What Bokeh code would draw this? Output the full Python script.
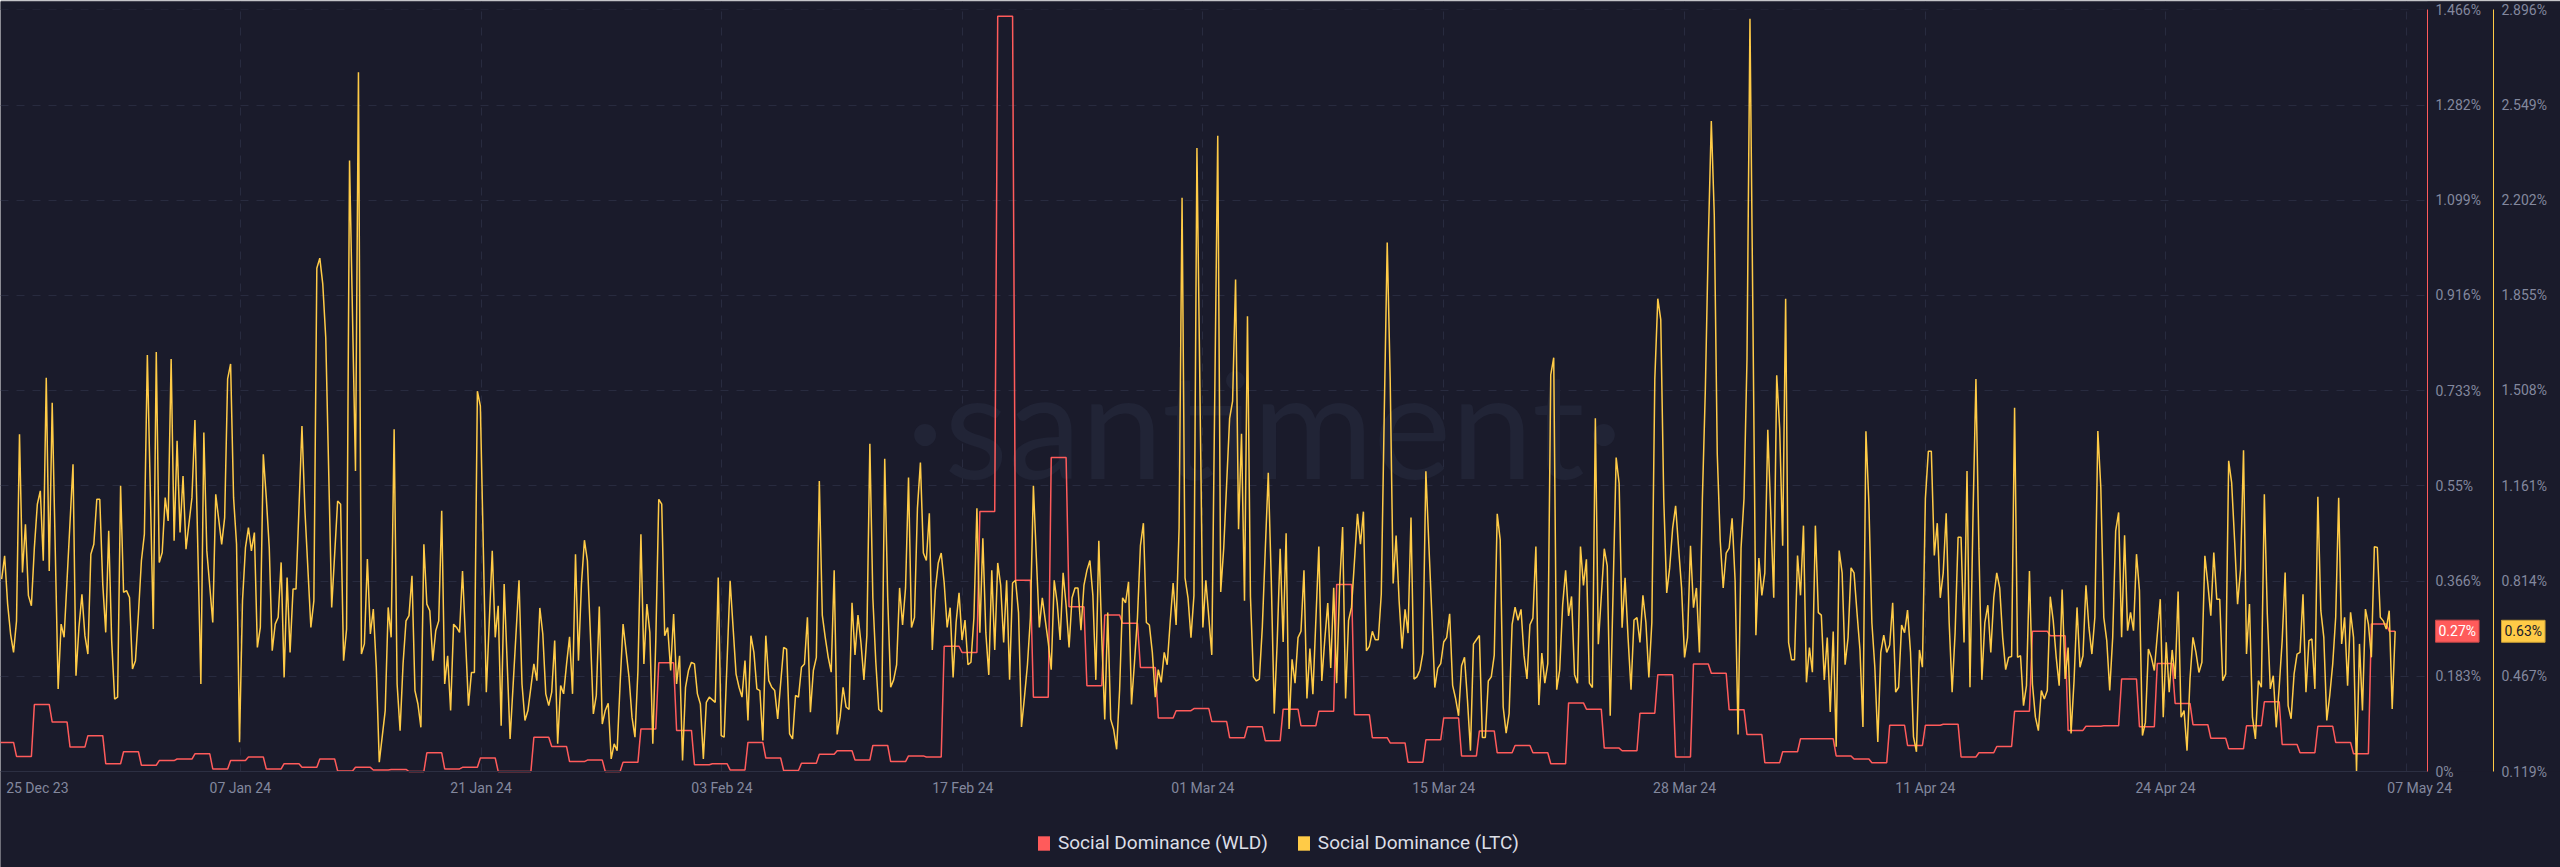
from bokeh.plotting import figure
from bokeh.models import (Range1d, LinearAxis, FixedTicker, PrintfTickFormatter,
                          Legend, LegendItem, Label, BoxAnnotation)
from bokeh.embed import file_html
from bokeh.resources import INLINE

# ---------------- data ----------------
# Social Dominance (WLD), one value per day starting 25 Dec 2023 (%)
wld_daily = [
    0.056, 0.029, 0.129, 0.095, 0.047, 0.069, 0.015, 0.038, 0.012, 0.021,
    0.024, 0.034, 0.005, 0.021, 0.028, 0.005, 0.015, 0.008, 0.024, 0.001,
    0.008, 0.003, 0.004, 0.0, 0.036, 0.005, 0.008, 0.026, 0.0, 0.0,
    0.066, 0.048, 0.019, 0.022, 0.0, 0.018, 0.082, 0.209, 0.079, 0.013,
    0.015, 0.003, 0.056, 0.026, 0.002, 0.016, 0.033, 0.04, 0.022, 0.05,
    0.019, 0.03, 0.028, 0.241, 0.229, 0.5, 1.453, 0.368, 0.143, 0.604,
    0.317, 0.165, 0.301, 0.285, 0.2, 0.103, 0.117, 0.121, 0.096, 0.065,
    0.086, 0.059, 0.12, 0.088, 0.116, 0.36, 0.109, 0.065, 0.055, 0.018,
    0.061, 0.103, 0.03, 0.078, 0.036, 0.05, 0.036, 0.015, 0.132, 0.12,
    0.045, 0.04, 0.112, 0.186, 0.028, 0.207, 0.189, 0.119, 0.071, 0.017,
    0.038, 0.063, 0.063, 0.03, 0.024, 0.017, 0.089, 0.05, 0.089, 0.091,
    0.028, 0.036, 0.048, 0.116, 0.27, 0.261, 0.079, 0.087, 0.088, 0.178,
    0.086, 0.208, 0.131, 0.09, 0.064, 0.044, 0.088, 0.134, 0.052, 0.036,
    0.087, 0.056, 0.034, 0.284, 0.27,
]

# Social Dominance (LTC): 4-hour step index since 25 Dec 2023 00:00, and value (%)
ltc_step = [
    *range(1, 19), *range(20, 23), *range(25, 51), *range(52, 64), 65, 66, 68, 69, 70, 72, 73,
    *range(75, 101), 102, 103, *range(105, 111), 112, *range(114, 119), *range(120, 129),
    *range(130, 157), *range(158, 163), 164,
    *range(166, 171), 172, *range(175, 179), *range(180, 211), *range(212, 240), *range(241, 245),
    *range(246, 263), *range(264, 352),
    *range(353, 404), 405, 406, 408, *range(410, 443), *range(444, 456), *range(457, 539),
    *range(540, 543), 544, *range(545, 726),
    *range(727, 807),
]
ltc_pct = [
    0.82, 0.905, 0.73, 0.62, 0.553, 0.668, 1.348, 0.844, 1.02, 0.76, 0.723, 0.935, 1.093, 1.142, 0.887, 1.554, 0.85, 1.463,
    0.42, 0.656, 0.608,
    1.239, 0.468, 0.644, 0.765, 0.614, 0.547, 0.911, 0.947, 1.111, 1.111, 0.802, 0.626, 0.996, 0.596, 0.383, 0.39, 1.16,
    0.772, 0.778, 0.753, 0.493, 0.523, 0.693, 0.887, 0.984, 1.637,
    0.638, 1.648, 0.881, 0.917, 1.117, 1.032, 1.622, 0.96, 1.324, 0.99, 1.196, 0.929,
    1.117, 1.40,
    0.438, 1.354, 0.923,
    0.662, 1.129,
    0.947, 1.044, 1.55, 1.604, 1.117, 0.947, 0.226, 0.741, 0.935, 1.008, 0.923, 0.99, 0.571, 0.644, 1.275, 1.117, 0.935,
    0.559, 0.656, 0.681, 0.881, 0.462, 0.826, 0.553, 0.784, 0.784,
    1.378, 1.069,
    0.644, 0.741, 1.953, 1.99, 1.895, 1.7,
    0.717,
    1.105, 1.093, 0.523, 0.638, 2.346,
    1.214, 2.667, 0.547, 0.584, 0.893, 0.62, 0.711, 0.499, 0.153,
    0.341, 0.717, 0.608, 1.366, 0.438, 0.268, 0.511, 0.668, 0.687, 0.832, 0.414, 0.365, 0.28, 0.947, 0.729, 0.705,
    0.523, 0.632, 0.668, 1.069, 0.438, 0.541, 0.341, 0.656, 0.644, 0.626, 0.85,
    0.359, 0.48, 0.48, 1.505, 1.451,
    0.408,
    # ---
    0.923, 0.608, 0.723, 0.286, 0.802,
    0.238,
    0.816, 0.438, 0.305, 0.341,
    0.511, 0.45, 0.715, 0.62, 0.402, 0.359, 0.408, 0.596, 0.22, 0.432, 0.402, 0.511, 0.61, 0.402, 0.911, 0.523,
    0.802, 0.962, 0.887, 0.62, 0.329, 0.396, 0.72, 0.292, 0.341, 0.368, 0.165, 0.22, 0.195, 0.438, 0.656,
    0.462, 0.317, 0.244, 0.487, 0.984, 0.511, 0.729, 0.626, 0.22, 0.596, 1.111, 1.093, 0.614, 0.644, 0.487,
    0.693, 0.438, 0.541, 0.159, 0.426, 0.487, 0.517, 0.511, 0.402, 0.365, 0.165, 0.371, 0.39,
    0.371, 0.826, 0.25, 0.244,
    0.814, 0.644, 0.474, 0.426, 0.39, 0.523, 0.305, 0.614, 0.553, 0.42, 0.414, 0.232, 0.614, 0.45, 0.426, 0.414, 0.311,
    0.571, 0.565, 0.256, 0.238, 0.396, 0.39, 0.499, 0.511, 0.681, 0.335, 0.487, 0.535, 1.178,
    0.689, 0.607, 0.535, 0.481, 0.852, 0.254, 0.318, 0.426, 0.354, 0.345,
    0.734, 0.544, 0.689, 0.589, 0.453, 0.616, 1.313, 0.752, 0.517, 0.345,
    0.336, 1.259, 0.752, 0.426, 0.453, 0.508, 0.788, 0.653, 0.788, 1.19,
    0.644, 0.68, 1.078, 1.245, 0.915, 0.888, 1.06, 0.562, 0.779, 0.879,
    0.915, 0.806, 0.644, 0.716, 0.462, 0.662, 0.77, 0.598, 0.671, 0.508,
    0.517, 0.68, 1.078, 0.625, 0.969, 0.625, 0.471, 0.852, 0.562, 0.879,
    0.797, 0.589, 0.816, 0.453, 0.806, 0.816, 0.698, 0.281, 0.39, 0.508,
    0.68, 1.16, 0.897, 0.644, 0.752,
    # ---
    0.589, 0.49, 0.816, 0.734, 0.598, 0.843, 0.725, 0.571, 0.752, 0.788,
    0.788, 0.634, 0.797, 0.852, 0.888, 0.761, 0.453, 0.96, 0.607, 0.309,
    0.698, 0.309, 0.272, 0.2, 0.417, 0.752, 0.734, 0.81, 0.363, 0.517,
    0.68, 0.942, 1.024, 0.662, 0.653, 0.553, 0.39, 0.49, 0.444, 0.553,
    0.508, 0.662, 0.806, 0.653, 1.006, 2.21, 0.825, 0.752, 0.607, 0.761,
    2.391,
    0.644, 0.816,
    0.544,
    2.436, 0.773, 0.931, 1.168, 1.406, 1.469, 1.912, 1.002, 1.35, 0.741,
    1.778, 0.757, 0.464, 0.449, 0.456, 0.646, 0.931, 1.208, 0.82, 0.33,
    0.591, 0.931, 0.591, 0.987, 0.274, 0.528, 0.441, 0.607, 0.63, 0.852,
    0.385, 0.567, 0.401,
    0.939, 0.449, 0.599, 0.733, 0.496, 0.789, 0.441, 0.797, 1.01, 0.385, 0.67, 0.718,
    1.058, 0.947, 1.066, 0.559, 0.575, 0.63, 0.599, 0.599, 0.765, 1.422,
    2.047, 1.548, 0.804, 0.979, 0.741, 0.567, 0.71, 0.623, 1.045, 0.456,
    0.464, 0.488, 0.551, 1.213, 0.947, 0.694, 0.425, 0.496, 0.512, 0.591,
    0.607, 0.694, 0.433, 0.385, 0.322, 0.504, 0.535, 0.377, 0.195, 0.583,
    0.599, 0.615, 0.243, 0.243, 0.449, 0.464, 0.543, 1.058, 0.963, 0.354,
    0.259, 0.33, 0.654, 0.718, 0.67, 0.71, 0.543, 0.456, 0.654, 0.678,
    0.939, 0.361, 0.551, 0.441, 0.512, 1.564, 1.627, 0.417, 0.488, 0.726,
    0.852, 0.686, 0.757, 0.472, 0.441, 0.939, 0.797, 0.892, 0.441, 0.425,
    1.406, 0.583,
    # ---
    0.931, 0.868, 0.322,
    1.263,
    1.169, 0.643, 0.825, 0.607, 0.417, 0.671, 0.68, 0.589, 0.761, 0.662,
    0.462, 0.662, 1.549, 1.842, 1.766, 1.114, 0.77, 0.861, 1.006, 1.087,
    0.933, 0.788, 0.535, 0.607, 0.942, 0.716, 0.788, 0.553, 1.114, 1.513,
    2.056, 2.49, 2.146, 1.277, 0.96, 0.788, 0.915, 0.933, 1.042, 0.816,
    0.254, 0.933, 1.114, 1.621, 2.862, 1.766, 0.616, 0.897, 0.761, 0.843,
    1.364, 1.06, 0.752, 1.563, 1.368, 0.942, 1.842, 0.589, 0.526, 0.526,
    0.906, 0.761, 1.015, 0.444, 0.571, 0.481, 1.015, 0.698, 0.689, 0.453,
    0.607, 0.336, 0.629, 0.209, 0.924, 0.843, 0.508, 0.607, 0.861, 0.843,
    0.698, 0.562, 0.281, 1.359, 1.096, 0.662, 0.499, 0.227, 0.553, 0.616,
    0.553, 0.58, 0.734, 0.408, 0.426, 0.653, 0.625, 0.707, 0.553, 0.245,
    0.191, 0.562, 0.499, 1.114, 1.286, 1.286, 0.906, 1.024, 0.752, 0.843,
    1.06, 0.662, 0.408, 0.625, 0.973, 0.973, 0.589, 1.214, 0.426, 1.042,
    1.549, 0.933, 0.453, 0.662, 0.725, 0.553, 0.752, 0.843, 0.788, 0.607,
    0.49, 0.535, 0.538, 1.445, 0.535,
    0.541, 0.359, 0.432, 0.85, 0.438, 0.317, 0.268, 0.414, 0.383, 0.414,
    0.756, 0.668, 0.535, 0.432, 0.782, 0.456, 0.571, 0.258, 0.45, 0.717,
    0.499, 0.541, 0.798, 0.644, 0.547, 0.681, 1.36, 1.154, 0.681, 0.596,
    0.414, 0.608, 0.996, 1.063, 0.608, 0.98, 0.632, 0.699, 0.632, 0.911,
    0.778, 0.25, 0.298, 0.565, 0.535, 0.487,
    # ---
    0.747, 0.317, 0.59, 0.408, 0.562, 0.456, 0.775, 0.317, 0.341, 0.195,
    0.456, 0.608, 0.553, 0.48, 0.517, 0.905, 0.802, 0.687, 0.917, 0.747,
    0.747, 0.45, 0.474, 1.251, 1.172, 0.96, 0.729, 0.856, 1.29, 0.547,
    0.729, 0.317, 0.238, 0.45, 0.426, 1.129, 0.693, 0.42, 0.468, 0.28,
    0.426, 0.596, 0.844, 0.359, 0.311, 0.474, 0.547, 0.553, 0.765, 0.408,
    0.596, 0.602, 0.42, 1.12, 0.705, 0.608, 0.305, 0.396, 0.511, 0.681,
    1.117, 0.584, 0.681, 0.432, 0.699, 0.608, 0.119, 0.584, 0.341, 0.711,
    0.656, 0.535, 0.938, 0.935, 0.681, 0.668, 0.638, 0.705, 0.347, 0.63,
]
assert len(ltc_step) == len(ltc_pct), (len(ltc_step), len(ltc_pct))

# axis ticks (x in hours since 25 Dec 2023 00:00)
x_tick_labels = ["25 Dec 23", "07 Jan 24", "21 Jan 24", "03 Feb 24", "17 Feb 24", "01 Mar 24",
                 "15 Mar 24", "28 Mar 24", "11 Apr 24", "24 Apr 24", "07 May 24"]
x_tick_hours = [52, 325, 649, 973, 1297, 1620, 1944, 2268, 2592, 2915, 3257]
x_grid_hours = [325, 649, 973, 1297, 1620, 1944, 2268, 2592, 2915, 3239]
wld_ticks = [0, 0.183, 0.366, 0.55, 0.733, 0.916, 1.099, 1.282, 1.466]
ltc_ticks = [0.119, 0.467, 0.814, 1.161, 1.508, 1.855, 2.202, 2.549, 2.896]
series_names = ["Social Dominance (WLD)", "Social Dominance (LTC)"]

# ---------------- layout / styling ----------------
BG = "#1a1b2b"
GRID = "#282b3f"
RED = "#ff5b5b"
YEL = "#ffcb47"
TXT = "#83889e"
FONT = "Roboto"
PLOT_W = 2427                  # width of the chart area (px)
FRAME_W, FRAME_H = 2560, 866   # the frame covers the whole picture (axes and legend live inside it)
TOP_PAD = 1                    # px above the frame
TICK_TOP, TICK_BOTTOM = 9, 771 # px rows of the top and bottom ticks
X0, X1 = 2.44, 3267.5          # hours shown across the chart area
H_PER_PX = (X1 - X0) / PLOT_W
X_END = X0 + FRAME_W * H_PER_PX
WLD_AXIS_X = X1                              # red axis at the right edge of the chart area
LTC_AXIS_X = X0 + (PLOT_W + 66) * H_PER_PX   # yellow axis one column further right
WLD_RANGE = (0, 1.466)
LTC_RANGE = (0.119, 2.896)


def padded(rng):
    per_px = (rng[1] - rng[0]) / (TICK_BOTTOM - TICK_TOP)
    top = rng[1] + (TICK_TOP - TOP_PAD) * per_px
    bottom = rng[0] - (TOP_PAD + FRAME_H - TICK_BOTTOM) * per_px
    return bottom, top


ltc_hours = [4 * s for s in ltc_step]
n_steps = max(ltc_step)
wld_hours = [4 * s for s in range(n_steps + 1)]
wld_vals = [wld_daily[s // 6] for s in range(n_steps + 1)]

p = figure(frame_width=FRAME_W, frame_height=FRAME_H,
           x_range=Range1d(X0, X_END), y_range=Range1d(*padded(WLD_RANGE)),
           y_axis_location="right", output_backend="svg", toolbar_location=None,
           background_fill_color=BG, border_fill_color=BG,
           min_border_left=0, min_border_top=TOP_PAD, min_border_right=0, min_border_bottom=0)
p.outline_line_color = None
p.extra_y_ranges = {"ltc": Range1d(*padded(LTC_RANGE))}

p.xgrid.ticker = FixedTicker(ticks=x_grid_hours)
p.ygrid.ticker = FixedTicker(ticks=wld_ticks)
for g in (p.xgrid, p.ygrid):
    g.grid_line_color = GRID
    g.grid_line_dash = "8 8"
    g.grid_line_width = 1

# keep the axis columns and the margins plain (grid lines only inside the chart area)
for box in (BoxAnnotation(left=WLD_AXIS_X), BoxAnnotation(top=WLD_RANGE[0]),
            BoxAnnotation(bottom=WLD_RANGE[1])):
    box.fill_color = BG
    box.fill_alpha = 1
    box.line_color = None
    box.level = "underlay"
    p.add_layout(box)

xa = p.xaxis[0]
xa.ticker = FixedTicker(ticks=x_tick_hours)
xa.major_label_overrides = {h: lab for h, lab in zip(x_tick_hours, x_tick_labels)}
xa.fixed_location = WLD_RANGE[0]
xa.bounds = (X0, WLD_AXIS_X)
xa.axis_line_color = "#2c2f42"
xa.major_tick_line_color = None
xa.minor_tick_line_color = None
xa.major_tick_out = 0
xa.major_tick_in = 0
xa.major_label_text_color = TXT
xa.major_label_text_font = FONT
xa.major_label_text_font_size = "14px"
xa.major_label_standoff = 8


def style_y(ax, color):
    ax.axis_line_color = color
    ax.axis_line_width = 1
    ax.major_tick_line_color = None
    ax.minor_tick_line_color = None
    ax.major_tick_out = 0
    ax.major_tick_in = 0
    ax.major_label_text_color = TXT
    ax.major_label_text_font = FONT
    ax.major_label_text_font_size = "14px"
    ax.major_label_standoff = 8


ya = p.yaxis[0]
ya.ticker = FixedTicker(ticks=wld_ticks)
ya.formatter = PrintfTickFormatter(format="%g%%")
ya.fixed_location = WLD_AXIS_X
ya.bounds = WLD_RANGE
style_y(ya, RED)

la = LinearAxis(y_range_name="ltc", ticker=FixedTicker(ticks=ltc_ticks),
                formatter=PrintfTickFormatter(format="%g%%"), fixed_location=LTC_AXIS_X,
                bounds=LTC_RANGE)
style_y(la, YEL)
p.add_layout(la, "right")

# watermark
p.add_layout(Label(x=1264, y=TOP_PAD + FRAME_H - 421, x_units="screen", y_units="screen",
                   text="·santiment·", text_align="center", text_baseline="alphabetic",
                   text_font="Lato", text_font_size="147px",
                   text_color="#212436", level="underlay"))

wld_r = p.line(wld_hours, wld_vals, line_color=RED, line_width=1.5)
ltc_r = p.line(ltc_hours, ltc_pct, line_color=YEL, line_width=1.5, y_range_name="ltc")

# last value badges on each axis
p.add_layout(Label(x=WLD_AXIS_X, y=wld_daily[-1], x_offset=8, text=f"{wld_daily[-1]:g}%",
                   text_align="left", text_baseline="middle",
                   text_font=FONT, text_font_size="14px", text_color="white",
                   background_fill_color=RED, border_line_color="#c94848", padding=3))
p.add_layout(Label(x=LTC_AXIS_X, y=ltc_pct[-1], y_range_name="ltc", x_offset=8,
                   text=f"{ltc_pct[-1]:g}%",
                   text_align="left", text_baseline="middle",
                   text_font=FONT, text_font_size="14px", text_color="#1a1b2b",
                   background_fill_color=YEL, border_line_color="#c99f36", padding=3))

# series legend under the x axis (swatch renderers are zero-size)
sw_wld = p.quad(left=[X0], right=[X0], top=[0], bottom=[0], fill_color=RED, line_color=None)
sw_ltc = p.quad(left=[X0], right=[X0], top=[0], bottom=[0], fill_color=YEL, line_color=None)
legend = Legend(items=[LegendItem(label=series_names[0], renderers=[sw_wld]),
                       LegendItem(label=series_names[1], renderers=[sw_ltc])],
                location=(1036, TOP_PAD + FRAME_H - 854), orientation="horizontal",
                background_fill_alpha=0, border_line_alpha=0, padding=0, margin=0,
                spacing=28, glyph_width=15, glyph_height=18, label_standoff=7,
                label_text_font=FONT, label_text_font_size="19px", label_text_color="#dcdee6")
p.add_layout(legend)

open("out.html", "w").write(file_html(p, INLINE))
